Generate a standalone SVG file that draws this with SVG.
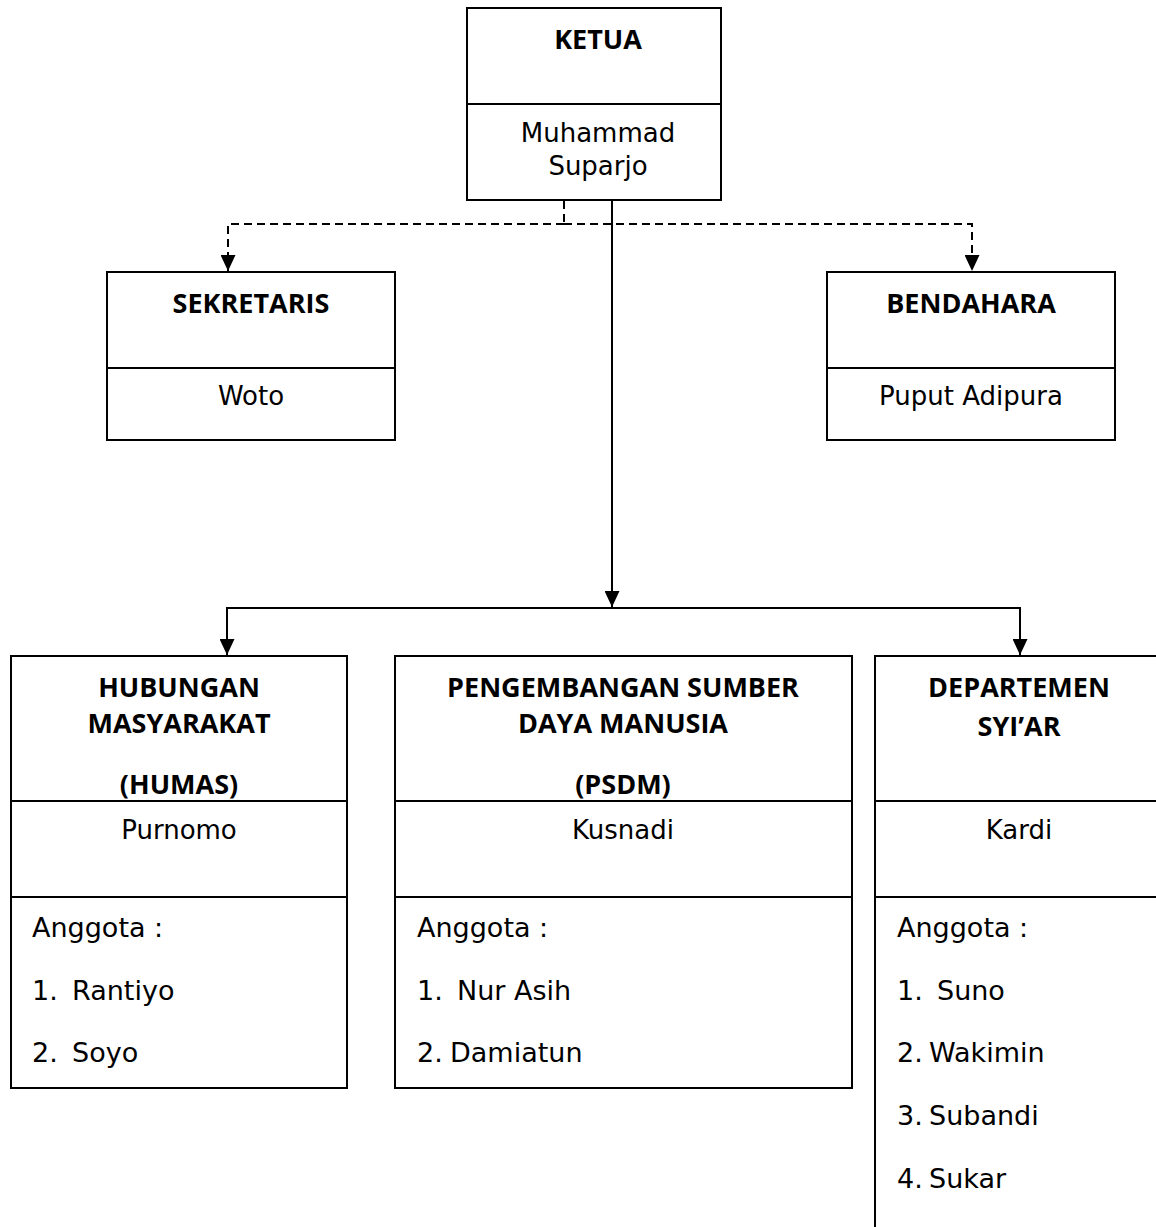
<svg xmlns="http://www.w3.org/2000/svg" width="1156" height="1227" viewBox="0 0 1156 1227">
<style>
.box{fill:#fff;stroke:#000;stroke-width:2}
.div{stroke:#000;stroke-width:2}
.h{font-family:"Open Sans","Liberation Sans",sans-serif;font-weight:bold;font-size:27px;fill:#000;text-anchor:middle}
.n{font-family:"DejaVu Sans","Liberation Sans",sans-serif;font-size:26px;fill:#000;text-anchor:middle}
.l{font-family:"DejaVu Sans","Liberation Sans",sans-serif;font-size:27px;fill:#000}
.c{fill:none;stroke:#000;stroke-width:2}
.d{fill:none;stroke:#000;stroke-width:2;stroke-dasharray:8 5}
</style>
<defs>
<marker id="ah" viewBox="0 0 16 15" refX="16" refY="7.5" markerWidth="16" markerHeight="15" markerUnits="userSpaceOnUse" orient="auto">
<path d="M0,0 L16,7.5 L0,15 Z" fill="#000"/>
</marker>
</defs>
<rect width="1156" height="1227" fill="#fff"/>
<g id="connectors">
<path class="d" d="M564,201 V224"/>
<path class="d" d="M564,224 H228 V271" marker-end="url(#ah)"/>
<path class="d" d="M564,224 H972 V271" marker-end="url(#ah)"/>
<path class="c" d="M612,201 V607" marker-end="url(#ah)"/>
<path class="c" d="M612,608 H227 V655" marker-end="url(#ah)"/>
<path class="c" d="M612,608 H1020 V655" marker-end="url(#ah)"/>
</g>
<g id="ketua">
<rect class="box" x="467" y="8" width="254" height="192"/>
<line class="div" x1="467" y1="104" x2="721" y2="104"/>
<text class="h" x="598" y="49">KETUA</text>
<text class="n" x="598" y="142">Muhammad</text>
<text class="n" x="598" y="175">Suparjo</text>
</g>
<g id="sekretaris">
<rect class="box" x="107" y="272" width="288" height="168"/>
<line class="div" x1="107" y1="368" x2="395" y2="368"/>
<text class="h" x="251" y="313">SEKRETARIS</text>
<text class="n" x="251" y="405">Woto</text>
</g>
<g id="bendahara">
<rect class="box" x="827" y="272" width="288" height="168"/>
<line class="div" x1="827" y1="368" x2="1115" y2="368"/>
<text class="h" x="971" y="313">BENDAHARA</text>
<text class="n" x="971" y="405">Puput Adipura</text>
</g>
<g id="humas">
<rect class="box" x="11" y="656" width="336" height="432"/>
<line class="div" x1="11" y1="801" x2="347" y2="801"/>
<line class="div" x1="11" y1="897" x2="347" y2="897"/>
<text class="h" x="179" y="697">HUBUNGAN</text>
<text class="h" x="179" y="733">MASYARAKAT</text>
<text class="h" x="179" y="794">(HUMAS)</text>
<text class="n" x="179" y="839">Purnomo</text>
<text class="l" x="32" y="937">Anggota :</text>
<text class="l" x="32" y="1000">1.<tspan x="72">Rantiyo</tspan></text>
<text class="l" x="32" y="1062">2.<tspan x="72">Soyo</tspan></text>
</g>
<g id="psdm">
<rect class="box" x="395" y="656" width="457" height="432"/>
<line class="div" x1="395" y1="801" x2="852" y2="801"/>
<line class="div" x1="395" y1="897" x2="852" y2="897"/>
<text class="h" x="623" y="697">PENGEMBANGAN SUMBER</text>
<text class="h" x="623" y="733">DAYA MANUSIA</text>
<text class="h" x="623" y="794">(PSDM)</text>
<text class="n" x="623" y="839">Kusnadi</text>
<text class="l" x="417" y="937">Anggota :</text>
<text class="l" x="417" y="1000">1.<tspan x="457">Nur Asih</tspan></text>
<text class="l" x="417" y="1062">2.<tspan x="450">Damiatun</tspan></text>
</g>
<g id="syiar">
<rect class="box" x="875" y="656" width="290" height="600"/>
<line class="div" x1="875" y1="801" x2="1165" y2="801"/>
<line class="div" x1="875" y1="897" x2="1165" y2="897"/>
<text class="h" x="1019" y="697">DEPARTEMEN</text>
<text class="h" x="1019" y="736">SYI’AR</text>
<text class="n" x="1019" y="839">Kardi</text>
<text class="l" x="897" y="937">Anggota :</text>
<text class="l" x="897" y="1000">1.<tspan x="937">Suno</tspan></text>
<text class="l" x="897" y="1062">2.<tspan x="929">Wakimin</tspan></text>
<text class="l" x="897" y="1125">3.<tspan x="929">Subandi</tspan></text>
<text class="l" x="897" y="1188">4.<tspan x="929">Sukar</tspan></text>
</g>
</svg>
